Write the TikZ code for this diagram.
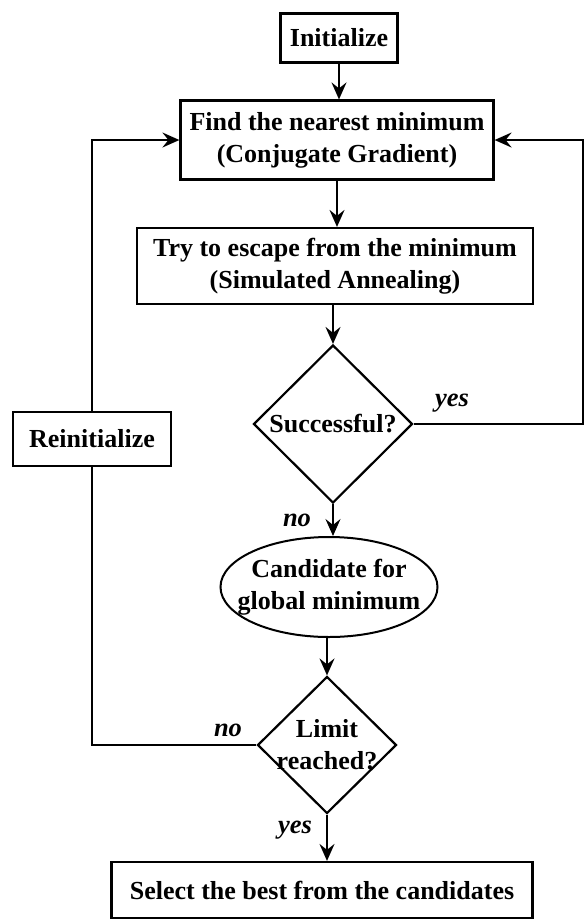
\documentclass[tikz,border=0pt]{standalone}
\usepackage{fontspec}
\setmainfont{Liberation Serif}
\usetikzlibrary{shapes,arrows.meta}

\begin{document}
\begin{tikzpicture}[x=1pt,y=-1pt,
    font=\fontsize{26}{32}\selectfont\bfseries,
    box/.style={draw, line width=2.2pt, rectangle, align=center, inner sep=0pt},
    decision/.style={draw, line width=2.2pt, diamond, inner sep=0pt},
    cand/.style={draw, line width=2pt, ellipse, inner sep=0pt},
    flow/.style={line width=2pt, -{Stealth[length=17pt,width=15pt,inset=6pt]}},
    ans/.style={font=\fontsize{26.5}{32}\selectfont\bfseries\itshape}]
    \useasboundingbox (0,0) rectangle (584,922);
    % boxes
    \node[box, minimum width=117pt, minimum height=49pt] (init) at (339,38) {Initialize};
    \node[box, minimum width=313pt, minimum height=79pt] (find) at (337,140)
        {Find the nearest minimum\\(Conjugate Gradient)};
    \node[box, minimum width=396pt, minimum height=76pt] (try) at (335,266)
        {Try to escape from the minimum\\(Simulated Annealing)};
    \node[decision, minimum width=159pt, minimum height=158pt] (succ) at (333,424) {};
    \node (succtext) at (succ) {Successful?};
    \node[cand, minimum width=217pt, minimum height=100pt] (cand) at (329,587) {};
    \node[align=center] (candtext) at (cand) {Candidate for\\global minimum};
    \node[decision, minimum width=139pt, minimum height=137pt] (limit) at (327,745) {};
    \node[align=center] (limittext) at (limit) {Limit\\reached?};
    \node[box, minimum width=158pt, minimum height=54pt] (reinit) at (92,439) {Reinitialize};
    \node[box, minimum width=421pt, minimum height=56pt] (select) at (322,890)
        {Select the best from the candidates};
    % answers
    \node[ans] (yes1) at (452,403) {yes};
    \node[ans] (no1) at (297,520) {no};
    \node[ans] (no2) at (228,730) {no};
    \node[ans] (yes2) at (295,830) {yes};
    % main line
    \draw[flow] (init.south) -- (init.south |- find.north);
    \draw[flow] (find.south) -- (find.south |- try.north);
    \draw[flow] (try.south -| succ.north) -- (succ.north);
    \draw[flow] (succ.south) -- (succ.south |- cand.north);
    \draw[flow] (cand.south -| limit.north) -- (limit.north);
    \draw[flow] (limit.south) -- (limit.south |- select.north);
    % loops back
    \coordinate (rturn) at (583,0);
    \draw[flow] (succ.east) -| (rturn |- find.east) -- (find.east);
    \draw[line width=2pt] (limit.west) -| (reinit.south);
    \draw[flow] (reinit.north) |- (find.west);
\end{tikzpicture}
\end{document}
